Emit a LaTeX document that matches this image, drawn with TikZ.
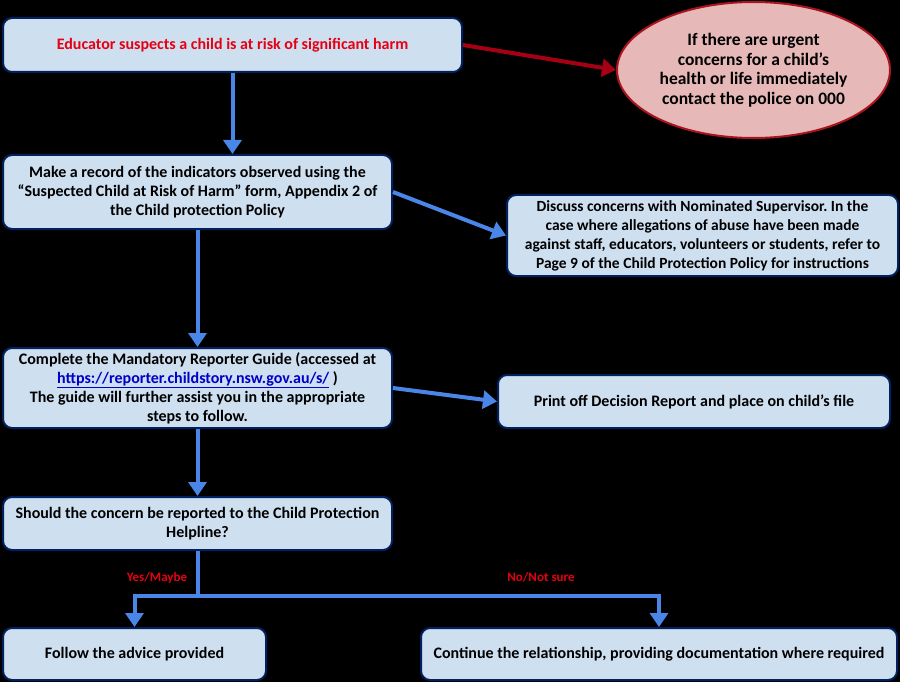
\documentclass[tikz,border=0pt]{standalone}
\usepackage{fontspec}
\setmainfont{Carlito}
\usetikzlibrary{arrows.meta,shapes.geometric}
\definecolor{boxfill}{RGB}{206,223,240}
\definecolor{boxline}{RGB}{0,32,96}
\definecolor{arrowblue}{RGB}{74,134,232}
\definecolor{arrowred}{RGB}{165,0,20}
\definecolor{ellfill}{RGB}{230,184,183}
\definecolor{ellline}{RGB}{170,20,30}
\definecolor{textred}{RGB}{230,0,18}
\definecolor{urlblue}{RGB}{0,0,200}
\frenchspacing
\tikzset{
  box/.style={draw=boxline, fill=boxfill, line width=2pt, rounded corners=9pt,
    font=\bfseries\fontsize{16}{19}\selectfont, align=center, inner sep=0pt},
  ell/.style={ellipse, draw=ellline, fill=ellfill, line width=2pt,
    font=\bfseries\fontsize{17.5}{19.5}\selectfont, align=center, inner sep=0pt},
  bluearrow/.style={draw=arrowblue, line width=4pt, -{Triangle[length=14pt,width=18pt]}},
  blueline/.style={draw=arrowblue, line width=4pt},
  redarrow/.style={draw=arrowred, line width=4pt, -{Triangle[length=14pt,width=18pt]}},
  lbl/.style={text=textred, font=\bfseries\fontsize{13}{14}\selectfont, inner sep=0pt}
}
\begin{document}
\begin{tikzpicture}[x=1pt,y=-1pt]
\fill[black] (0,0) rectangle (900,682);
\useasboundingbox (0,0) rectangle (900,682);

\node[box, minimum width=459pt, minimum height=54pt, text=textred] (a) at (232.5,45)
  {Educator suspects a child is at risk of significant harm};
\node[ell, minimum width=273pt, minimum height=136pt] (e) at (753.5,70)
  {If there are urgent\\concerns for a child’s\\health or life immediately\\contact the police on 000};
\node[box, minimum width=389pt, minimum height=74pt] (b) at (197.5,192)
  {Make a record of the indicators observed using the\\“Suspected Child at Risk of Harm” form, Appendix 2 of\\the Child protection Policy};
\node[box, minimum width=391pt, minimum height=81pt, font=\bfseries\fontsize{15.5}{19}\selectfont] (c) at (702.5,235.5)
  {Discuss concerns with Nominated Supervisor. In the\\case where allegations of abuse have been made\\against staff, educators, volunteers or students, refer to\\Page 9 of the Child Protection Policy for instructions};
\node[box, minimum width=389pt, minimum height=80pt] (d) at (197.5,388)
  {Complete the Mandatory Reporter Guide (accessed at\\\textcolor{urlblue}{\underline{https://reporter.childstory.nsw.gov.au/s/}} )\\The guide will further assist you in the appropriate\\steps to follow.};
\node[box, minimum width=392pt, minimum height=53pt] (f) at (694,401.5)
  {Print off Decision Report and place on child’s file};
\node[box, minimum width=389pt, minimum height=53pt] (g) at (197.5,523.5)
  {Should the concern be reported to the Child Protection\\Helpline?};
\node[box, minimum width=263pt, minimum height=52pt] (h) at (134.5,654)
  {Follow the advice provided};
\node[box, minimum width=476pt, minimum height=52pt] (i) at (659,654)
  {Continue the relationship, providing documentation where required};

\draw[redarrow] (a.east) -- (e.west);
\draw[bluearrow] (a.south) -- (a.south |- b.north);
\draw[bluearrow] (b.east) -- (c.west);
\draw[bluearrow] (b.south) -- (d.north);
\draw[bluearrow] (d.east) -- (f.west);
\draw[bluearrow] (d.south) -- (g.north);
\coordinate (j) at (197.5,596);
\draw[blueline] (g.south) -- (j);
\draw[bluearrow] (j) -| (h.north);
\draw[bluearrow] (j) -| (i.north);

\node[lbl] (yes) at (157,578) {Yes/Maybe};
\node[lbl] (no) at (541,577) {No/Not sure};
\end{tikzpicture}
\end{document}
